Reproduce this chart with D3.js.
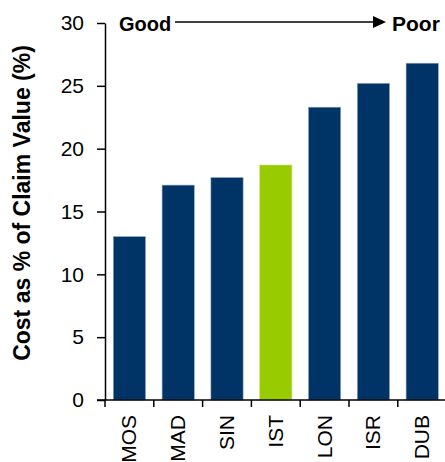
<!DOCTYPE html>
<html>
<head>
<meta charset="utf-8">
<script src="https://cdn.jsdelivr.net/npm/d3@7"></script>
<style>
  body { margin: 0; background: #fff; }
  svg { display: block; font-family: "Liberation Sans", Arial, sans-serif; }
  .tick text { fill: #000; }
</style>
</head>
<body>
<div id="chart"></div>
<script>
// chart data
var cities = ["MOS", "MAD", "SIN", "IST", "LON", "ISR", "DUB"];
var costPct = [13.0, 17.1, 17.7, 18.7, 23.3, 25.2, 26.8];
var highlight = ["IST"];
var yTicks = [0, 5, 10, 15, 20, 25, 30];

var width = 445, height = 462;
var plotLeft = 105, plotBottom = 400, plotTop = 23;

var svg = d3.select("#chart").append("svg")
    .attr("width", width)
    .attr("height", height);

var y = d3.scaleLinear().domain([0, 30]).range([plotBottom, plotTop]);
var x = d3.scaleBand().domain(cities)
    .range([plotLeft, plotLeft + 7 * 48.8])
    .paddingInner(0.34)
    .paddingOuter(0.17);

var data = cities.map(function(c, i) { return {city: c, value: costPct[i]}; });

// bars
svg.selectAll("rect.bar")
    .data(data).enter().append("rect")
    .attr("class", "bar")
    .attr("x", function(d) { return x(d.city); })
    .attr("y", function(d) { return y(d.value); })
    .attr("width", x.bandwidth())
    .attr("height", function(d) { return y(0) - y(d.value); })
    .attr("fill", function(d) { return highlight.indexOf(d.city) >= 0 ? "#99cc00" : "#003366"; })
    .attr("stroke", function(d) { return highlight.indexOf(d.city) >= 0 ? "#c8e27a" : "#8ea6c0"; })
    .attr("stroke-width", 0.6);

// y axis
var yAxis = svg.append("g")
    .attr("transform", "translate(" + plotLeft + ",0)")
    .call(d3.axisLeft(y).tickValues(yTicks).tickSize(8).tickSizeOuter(0).tickPadding(13));
yAxis.selectAll("text").attr("font-size", 21).attr("font-family", "Liberation Sans, Arial, sans-serif");
yAxis.selectAll("line, path").attr("stroke", "#000").attr("stroke-width", 1.5);

// x axis baseline + boundary ticks
var step = x.step();
var gap = (step - x.bandwidth()) / 2;
svg.append("line")
    .attr("x1", plotLeft - 8).attr("x2", width)
    .attr("y1", plotBottom).attr("y2", plotBottom)
    .attr("stroke", "#000").attr("stroke-width", 1.5);
svg.selectAll("line.xtick")
    .data(cities).enter().append("line")
    .attr("class", "xtick")
    .attr("x1", function(d) { return x(d) - gap; })
    .attr("x2", function(d) { return x(d) - gap; })
    .attr("y1", plotBottom).attr("y2", plotBottom + 7)
    .attr("stroke", "#000").attr("stroke-width", 1.5);

// x labels, rotated
svg.selectAll("text.xlab")
    .data(cities).enter().append("text")
    .attr("class", "xlab")
    .attr("transform", function(d) {
        return "translate(" + (x(d) + x.bandwidth() / 2 + 7) + "," + (plotBottom + 15) + ") rotate(-90)";
    })
    .attr("text-anchor", "end")
    .attr("font-size", 21)
    .text(function(d) { return d; });

// y axis title
svg.append("text")
    .attr("transform", "translate(30,203) rotate(-90)")
    .attr("text-anchor", "middle")
    .attr("font-size", 23)
    .attr("font-weight", "bold")
    .text("Cost as % of Claim Value (%)");

// Good -> Poor arrow
svg.append("text")
    .attr("x", 119).attr("y", 31)
    .attr("font-size", 20).attr("font-weight", "bold")
    .text("Good");
svg.append("line")
    .attr("x1", 175).attr("x2", 376)
    .attr("y1", 22).attr("y2", 22)
    .attr("stroke", "#000").attr("stroke-width", 1.5);
svg.append("path")
    .attr("d", "M373,16 L386,22 L373,28 Z")
    .attr("fill", "#000");
svg.append("text")
    .attr("x", 392).attr("y", 31)
    .attr("font-size", 21).attr("font-weight", "bold")
    .text("Poor");
</script>
</body>
</html>
